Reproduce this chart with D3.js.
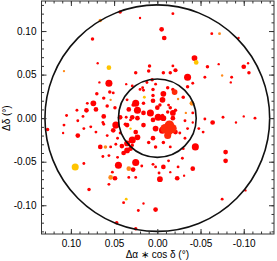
<!DOCTYPE html>
<html>
<head>
<meta charset="UTF-8">
<script src="https://d3js.org/d3.v7.min.js"></script>
<style>
  body { margin: 0; background: #fff; }
  text { font-family: "Liberation Sans", Arial, sans-serif; fill: #000; }
</style>
</head>
<body>
<div id="chart"></div>
<script>
// offsets in degrees: [dRA*cos(dec), dDec, flux]
const red = [
  [0.043,0.122,2.2],[0.075,0.091,2.2],[0.069,0.063,1],[0.025,0.052,2.2],[0.067,0.041,1],
  [0.056,0.040,9],[0.070,0.028,2.2],[0.055,0.030,2.2],[0.062,0.023,2.2],[0.081,0.017,1.5],
  [0.074,0.017,6],[0.058,0.014,2.2],[0.049,0.012,2.2],[0.093,0.009,1.5],[0.082,0.009,4],
  [0.071,0.010,4],[0.105,0.003,1.5],[0.086,0.002,1.5],[0.062,0.002,4],[0.036,0.001,1.5],
  [0.025,0.017,9],[0.033,0.010,4],[0.023,0.009,9],[0.035,-0.008,4],[0.062,-0.007,1.5],
  [0.092,-0.003,1.5],[0.077,-0.010,1.5],[0.127,-0.013,2.2],[0.085,-0.012,1.5],[0.108,-0.008,1.5],
  [-0.018,0.120,1.5],[-0.005,0.102,4],[-0.008,0.092,4],[0.020,0.115,1],[-0.063,0.097,1.5],
  [-0.094,0.092,1],[-0.043,0.069,6],[-0.058,0.059,2.2],[-0.071,0.062,1],[-0.100,0.059,4],
  [-0.105,0.063,1],[-0.106,0.052,2.2],[0.009,0.060,2.2],[0.010,0.054,2.2],[-0.007,0.052,2.2],
  [-0.015,0.052,2.2],[-0.021,0.055,3.2],[-0.035,0.047,9],[-0.055,0.047,1.5],[-0.086,0.047,1.5],
  [-0.085,0.041,1],[0.006,0.044,2.2],[0.012,0.041,1.5],[-0.035,0.036,2.2],[-0.012,0.035,2.2],
  [-0.007,0.028,6],[0.005,0.033,2.2],[0.017,0.035,1.5],[-0.015,0.012,2.2],[-0.006,0.021,6],
  [-0.076,0.001,1.5],[-0.091,-0.005,1],[-0.100,0.002,1],[-0.113,0.000,1.5],[-0.055,-0.001,1.5],
  [0.109,-0.017,1],[0.092,-0.020,4],[0.071,-0.016,1.5],[0.066,-0.033,4],[0.054,-0.033,1.5],
  [0.048,-0.030,1.5],[0.041,-0.032,4],[0.035,-0.037,6],[0.039,-0.040,4],[0.031,-0.035,4],
  [0.063,-0.044,1.5],[0.056,-0.043,1.5],[0.046,-0.045,1.5],[0.045,-0.054,9],[0.025,-0.051,9],
  [0.085,-0.052,1.5],[0.052,-0.062,1.5],[0.049,-0.069,4],[0.056,-0.076,1.5],[0.079,-0.082,2.2],
  [0.039,-0.097,1.5],[0.022,-0.106,1.5],[0.047,-0.120,2.2],[0.025,-0.127,2.2],[-0.079,-0.039,4],
  [-0.079,-0.049,4],[-0.044,-0.033,9],[-0.029,-0.046,1.5],[-0.013,-0.049,1.5],[0.005,-0.053,1.5],
  [0.018,-0.055,1.5],[-0.002,-0.063,1.5],[-0.015,-0.062,1],[-0.003,-0.070,6],[-0.023,-0.069,4],
  [-0.031,-0.066,1],[-0.102,-0.083,1],[-0.075,-0.093,1.5],[0.016,-0.098,1],[0.002,-0.105,4],
  [0.036,0.039,1],[0.029,0.037,1.5],[0.020,0.033,1.5],[0.002,0.039,1.5],[0.016,0.032,1.5],
  [0.005,0.026,2.2],[0.028,0.015,2.2],[0.016,0.017,2.2],[0.005,0.020,4],[-0.003,0.015,2.2],
  [0.016,0.006,4],[0.008,0.006,9],[0.000,0.012,4],[0.035,0.021,1.5],[0.051,0.029,1.5],
  [0.043,0.001,4],[0.029,0.001,4],[-0.006,0.003,2.2],[-0.018,0.060,1.5],[-0.041,0.040,1.5],
  [-0.030,0.024,2.2],[-0.013,0.015,1.5],[-0.012,0.007,2.2],[-0.018,0.006,6],[-0.021,0.009,2.2],
  [-0.041,0.006,1.5],[-0.007,0.000,6],[-0.018,0.033,2.2],[0.048,-0.008,9],[0.051,-0.014,4],
  [0.063,-0.005,1.5],[0.058,-0.020,1.5],[0.046,-0.023,1.5],[0.043,-0.017,1.5],[0.037,-0.007,2.2],
  [0.031,-0.002,1.5],[0.023,0.000,4],[0.016,-0.008,4],[0.005,-0.002,4],[-0.001,0.001,9],
  [0.002,-0.012,6],[-0.006,-0.014,9],[0.025,-0.016,4],[0.029,-0.025,9],[0.023,-0.022,6],
  [0.035,-0.029,6],[0.029,-0.031,2.2],[0.005,-0.023,4],[0.010,-0.028,2.2],[0.002,-0.033,2.2],
  [-0.007,-0.028,2.2],[0.028,-0.059,4],[0.002,-0.056,1.5],[0.033,-0.068,1.5],[0.025,-0.068,1.5],
  [-0.018,0.000,4],[-0.021,-0.016,4],[-0.032,-0.003,1.5],[-0.041,-0.005,1],[-0.035,-0.012,1.5],
  [-0.026,-0.017,1.5],[-0.032,-0.023,1.5],[-0.064,-0.005,4],[-0.048,-0.012,1.5],[-0.053,-0.016,1.5],
  [-0.030,-0.035,1.5],[-0.015,-0.033,1.5],[-0.041,-0.058,4],[-0.007,-0.056,4],[-0.024,-0.056,1.5]
];
const core = [
  [-0.014,-0.008,16],[-0.009,-0.012,16],[-0.012,-0.020,9],[-0.017,-0.012,16],[-0.013,-0.015,12],
  [-0.020,0.030,6]
];
const orange = [
  [0.066,0.112,2.2],[0.108,0.054,1],[0.054,0.021,1],[-0.072,0.097,1.5],[-0.040,0.017,4],
  [-0.024,0.022,1],[0.060,-0.033,2.2],[0.054,-0.068,4],[-0.075,0.049,1],[-0.033,0.006,1],
  [0.033,-0.058,4]
];
const yellow = [
  [0.056,0.058,4],[-0.045,0.064,4],[0.015,0.024,1.5],[0.095,-0.056,9],[0.036,-0.093,1.5],
  [0.031,-0.012,1]
];
const rings = [0.13, 0.045];
const majorTicks = [0.10, 0.05, 0.00, -0.05, -0.10];
const minorTicks = d3.range(-13, 14).map(i => i / 100);

const width = 277, height = 261;
const margin = {top: 1, right: 3, bottom: 27, left: 41.5};

const svg = d3.select("#chart").append("svg")
  .attr("width", width).attr("height", height);

const x = d3.scaleLinear().domain([0.134, -0.135]).range([margin.left, width - margin.right]);
const y = d3.scaleLinear().domain([-0.133, 0.1345]).range([height - margin.bottom, margin.top]);
const r = d3.scaleSqrt().domain([0, 16]).range([0, 4.7]);

const groups = [
  {pts: red, color: "#ff0000"},
  {pts: core, color: "#ff2a08"},
  {pts: orange, color: "#ff8a1a"},
  {pts: yellow, color: "#ffc400"}
];

const plot = svg.append("g");
groups.forEach(g => {
  plot.selectAll(null).data(g.pts).enter().append("circle")
    .attr("cx", d => x(d[0]))
    .attr("cy", d => y(d[1]))
    .attr("r", d => r(d[2]))
    .attr("fill", g.color);
});

// reference rings
plot.selectAll("ellipse").data(rings).enter().append("ellipse")
  .attr("cx", x(0)).attr("cy", y(0))
  .attr("rx", d => Math.abs(x(d) - x(0)))
  .attr("ry", d => Math.abs(y(d) - y(0)))
  .attr("fill", "none").attr("stroke", "#111").attr("stroke-width", 1.6);

const fmt = d => (Math.abs(d) < 1e-9 ? 0 : d).toFixed(2);
const x0 = margin.left, x1 = width - margin.right;
const y0 = height - margin.bottom, y1 = margin.top;

function styleAxis(g) {
  g.select(".domain").remove();
  g.selectAll("line").attr("stroke", "#333");
  g.selectAll("text").style("font-size", "10px").attr("fill", "#000");
}

// major ticks + labels
svg.append("g").attr("transform", `translate(0,${y0})`)
  .call(d3.axisBottom(x).tickValues(majorTicks).tickSize(-5).tickPadding(6).tickFormat(fmt))
  .call(styleAxis);
svg.append("g").attr("transform", `translate(${x0},0)`)
  .call(d3.axisLeft(y).tickValues(majorTicks).tickSize(-5).tickPadding(5).tickFormat(fmt))
  .call(styleAxis);
svg.append("g").attr("transform", `translate(0,${y1})`)
  .call(d3.axisTop(x).tickValues(majorTicks).tickSize(-5).tickFormat(""))
  .call(styleAxis);
svg.append("g").attr("transform", `translate(${x1},0)`)
  .call(d3.axisRight(y).tickValues(majorTicks).tickSize(-5).tickFormat(""))
  .call(styleAxis);

// minor ticks
const xm = minorTicks.filter(v => x(v) > x0 + 1 && x(v) < x1 - 1);
const ym = minorTicks.filter(v => y(v) < y0 - 1 && y(v) > y1 + 1);
svg.append("g").attr("transform", `translate(0,${y0})`)
  .call(d3.axisBottom(x).tickValues(xm).tickSize(-2.5).tickFormat("")).call(styleAxis);
svg.append("g").attr("transform", `translate(0,${y1})`)
  .call(d3.axisTop(x).tickValues(xm).tickSize(-2.5).tickFormat("")).call(styleAxis);
svg.append("g").attr("transform", `translate(${x0},0)`)
  .call(d3.axisLeft(y).tickValues(ym).tickSize(-2.5).tickFormat("")).call(styleAxis);
svg.append("g").attr("transform", `translate(${x1},0)`)
  .call(d3.axisRight(y).tickValues(ym).tickSize(-2.5).tickFormat("")).call(styleAxis);

// frame
svg.append("rect")
  .attr("x", x0).attr("y", y1)
  .attr("width", x1 - x0).attr("height", y0 - y1)
  .attr("fill", "none").attr("stroke", "#333").attr("stroke-width", 1);

// axis titles
svg.append("text")
  .attr("x", x(0)).attr("y", 258)
  .attr("text-anchor", "middle").style("font-size", "10px")
  .text("Δα ∗ cos δ (°)");
svg.append("text")
  .attr("transform", `translate(10,${y(0)}) rotate(-90)`)
  .attr("text-anchor", "middle").style("font-size", "10px")
  .text("Δδ (°)");
</script>
</body>
</html>
